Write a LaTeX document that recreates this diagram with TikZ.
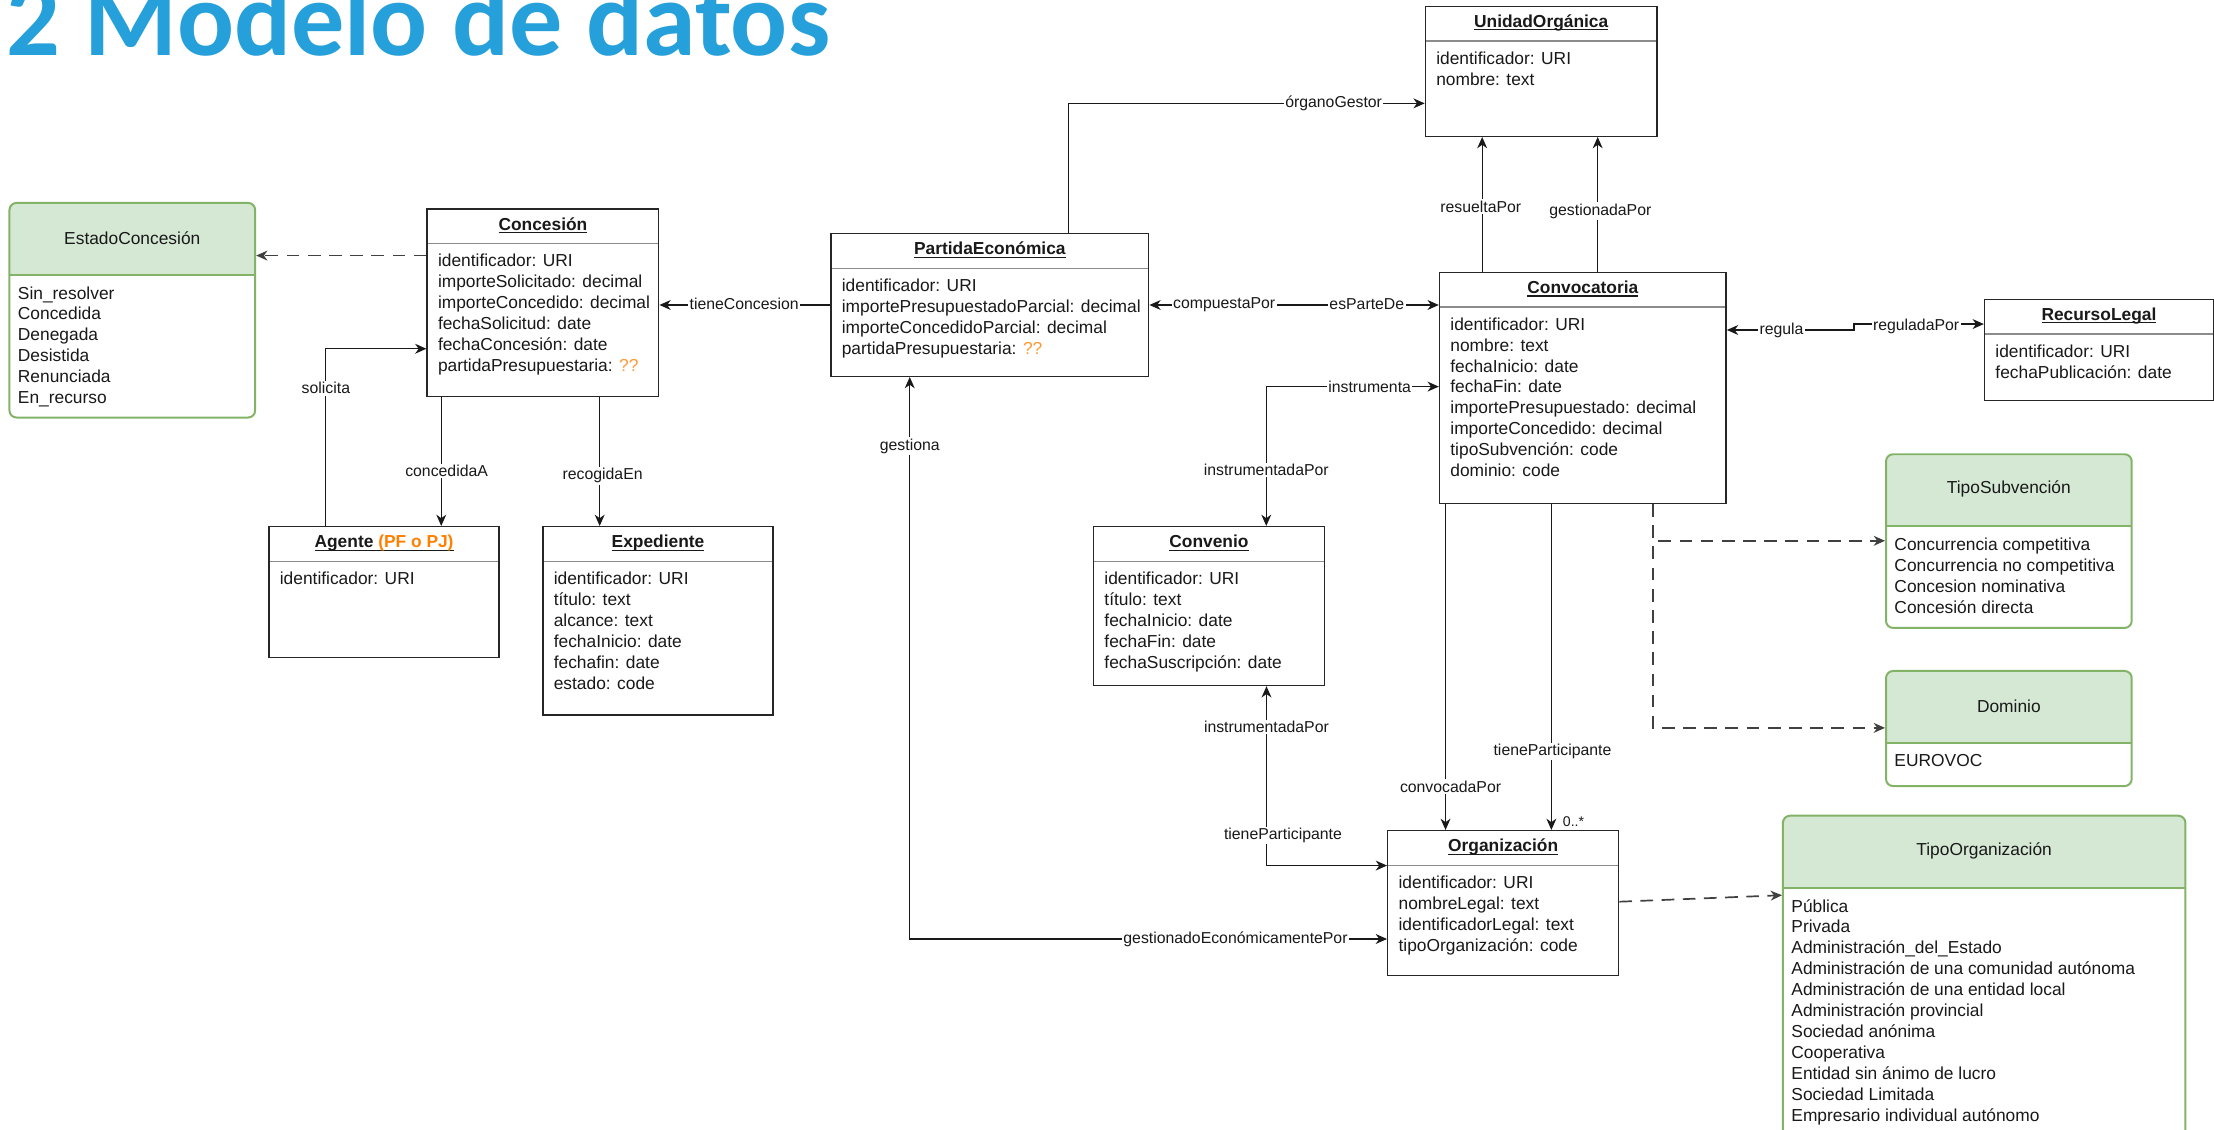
\documentclass[tikz,border=0pt]{standalone}
\usepackage{fontspec}
\setmainfont{Liberation Sans}
\newfontfamily\headfont{Carlito}
\usetikzlibrary{arrows.meta}

\definecolor{hdrgreen}{HTML}{D5E8D4}
\definecolor{linegreen}{HTML}{82B366}
\definecolor{qorange}{HTML}{FF9933}
\definecolor{agorange}{HTML}{FF8000}
\definecolor{titleblue}{HTML}{26A0DA}

\newcommand{\attrfont}{\fontsize{12.3pt}{14.8pt}\selectfont}
\newcommand{\lblfont}{\fontsize{11.2pt}{13pt}\selectfont}
\newcommand{\qq}{\textcolor{qorange}{??}}
\newsavebox{\ttlbox}
\newcommand{\ttlul}[1]{\sbox{\ttlbox}{#1}\rlap{\rule[-2.2pt]{\wd\ttlbox}{0.75pt}}\usebox{\ttlbox}}

\begin{document}
\begin{tikzpicture}[x=1pt, y=-1pt,
    >={Stealth[length=8pt,width=7pt,inset=2.5pt]},
    cls/.style={draw=black!85, line width=1pt, fill=white, anchor=north west, inner sep=0pt,
      path picture={\draw[black!45, line width=0.8pt]
        ([yshift=-24.5pt]path picture bounding box.north west) --
        ([yshift=-24.5pt]path picture bounding box.north east);}},
    enum/.style={draw=linegreen, line width=1.4pt, fill=white, rounded corners=5pt,
      anchor=north west, inner sep=0pt,
      path picture={\fill[hdrgreen, sharp corners]
        (path picture bounding box.north west) rectangle
        ([yshift=-51pt]path picture bounding box.north east);
        \draw[linegreen, line width=1.4pt, sharp corners]
        ([yshift=-51pt]path picture bounding box.north west) --
        ([yshift=-51pt]path picture bounding box.north east);}},
    ttl/.style={anchor=base, inner sep=0pt, font=\attrfont\bfseries, text=black!90},
    ehd/.style={inner sep=0pt, font=\attrfont, text=black!90},
    attr/.style={anchor=north west, inner sep=0pt, align=left, font=\attrfont, text=black!90},
    lbl/.style={fill=white, inner sep=1pt, font=\lblfont, text=black!90},
    link/.style={draw=black!90, line width=0.8pt, ->},
    link2/.style={link, <->},
    dlink/.style={draw=black!75, line width=1.2pt, dash pattern=on 9pt off 6pt, ->}]
  \useasboundingbox (0,0) rectangle (1568,800);

  % Title
  \node[anchor=base west, inner sep=0pt, text=titleblue,
    font=\headfont\bfseries\fontsize{75.2pt}{80pt}\selectfont] (title) at (4.5,39) {2 Modelo de datos};

  % Enumerations
  \node[enum, minimum width=174pt, minimum height=152pt] (est) at (6,143) {};
  \node[ehd] (est-t) at ([yshift=-25.5pt]est.north) {EstadoConcesión};
  \node[attr] (est-a) at ([xshift=6.5pt,yshift=-59.7pt]est.north west)
    {Sin\_resolver\\Concedida\\Denegada\\Desistida\\Renunciada\\En\_recurso};

  \node[enum, minimum width=174pt, minimum height=123pt] (tsub) at (1335,321) {};
  \node[ehd] (tsub-t) at ([yshift=-25.5pt]tsub.north) {TipoSubvención};
  \node[attr] (tsub-a) at ([xshift=6.5pt,yshift=-59.7pt]tsub.north west)
    {Concurrencia competitiva\\Concurrencia no competitiva\\Concesion nominativa\\Concesión directa};

  \node[enum, minimum width=174pt, minimum height=81.5pt] (domi) at (1335,474.5) {};
  \node[ehd] (domi-t) at ([yshift=-25.5pt]domi.north) {Dominio};
  \node[attr] (domi-a) at ([xshift=6.5pt,yshift=-59.7pt]domi.north west) {EUROVOC};

  \node[enum, minimum width=285pt, minimum height=240pt] (torg) at (1262,577) {};
  \node[ehd] (torg-t) at ([yshift=-25.5pt]torg.north) {TipoOrganización};
  \node[attr] (torg-a) at ([xshift=6.5pt,yshift=-59.7pt]torg.north west)
    {Pública\\Privada\\Administración\_del\_Estado\\Administración de una comunidad autónoma\\
     Administración de una entidad local\\Administración provincial\\Sociedad anónima\\
     Cooperativa\\Entidad sin ánimo de lucro\\Sociedad Limitada\\Empresario individual autónomo};

  % Classes
  \node[cls, minimum width=164pt, minimum height=133pt] (conc) at (302,147.5) {};
  \node[ttl] (conc-t) at ([yshift=-15.4pt]conc.north) {\ttlul{Concesión}};
  \node[attr] (conc-a) at ([xshift=8pt,yshift=-32.4pt]conc.north west)
    {identificador: URI\\importeSolicitado: decimal\\importeConcedido: decimal\\
     fechaSolicitud: date\\fechaConcesión: date\\partidaPresupuestaria: \qq};

  \node[cls, minimum width=163pt, minimum height=92.5pt] (agen) at (190,372.5) {};
  \node[ttl] (agen-t) at ([yshift=-15.4pt]agen.north) {\ttlul{Agente \textcolor{agorange}{(PF o PJ)}}};
  \node[attr] (agen-a) at ([xshift=8pt,yshift=-32.4pt]agen.north west) {identificador: URI};

  \node[cls, minimum width=163pt, minimum height=133.5pt] (expe) at (384,372.5) {};
  \node[ttl] (expe-t) at ([yshift=-15.4pt]expe.north) {\ttlul{Expediente}};
  \node[attr] (expe-a) at ([xshift=8pt,yshift=-32.4pt]expe.north west)
    {identificador: URI\\título: text\\alcance: text\\fechaInicio: date\\fechafin: date\\estado: code};

  \node[cls, minimum width=225pt, minimum height=101pt] (part) at (588,165) {};
  \node[ttl] (part-t) at ([yshift=-15.4pt]part.north) {\ttlul{PartidaEconómica}};
  \node[attr] (part-a) at ([xshift=8pt,yshift=-32.4pt]part.north west)
    {identificador: URI\\importePresupuestadoParcial: decimal\\importeConcedidoParcial: decimal\\
     partidaPresupuestaria: \qq};

  \node[cls, minimum width=164pt, minimum height=92pt] (unid) at (1009,4) {};
  \node[ttl] (unid-t) at ([yshift=-15.4pt]unid.north) {\ttlul{UnidadOrgánica}};
  \node[attr] (unid-a) at ([xshift=8pt,yshift=-32.4pt]unid.north west) {identificador: URI\\nombre: text};

  \node[cls, minimum width=203pt, minimum height=163.6pt] (conv) at (1019,192.4) {};
  \node[ttl] (conv-t) at ([yshift=-15.4pt]conv.north) {\ttlul{Convocatoria}};
  \node[attr] (conv-a) at ([xshift=8pt,yshift=-32.4pt]conv.north west)
    {identificador: URI\\nombre: text\\fechaInicio: date\\fechaFin: date\\
     importePresupuestado: decimal\\importeConcedido: decimal\\tipoSubvención: code\\dominio: code};

  \node[cls, minimum width=162pt, minimum height=71.5pt] (recu) at (1405,211.5) {};
  \node[ttl] (recu-t) at ([yshift=-15.4pt]recu.north) {\ttlul{RecursoLegal}};
  \node[attr] (recu-a) at ([xshift=8pt,yshift=-32.4pt]recu.north west)
    {identificador: URI\\fechaPublicación: date};

  \node[cls, minimum width=163.4pt, minimum height=112.5pt] (cnvn) at (774,372.5) {};
  \node[ttl] (cnvn-t) at ([yshift=-15.4pt]cnvn.north) {\ttlul{Convenio}};
  \node[attr] (cnvn-a) at ([xshift=8pt,yshift=-32.4pt]cnvn.north west)
    {identificador: URI\\título: text\\fechaInicio: date\\fechaFin: date\\fechaSuscripción: date};

  \node[cls, minimum width=163.5pt, minimum height=102.7pt] (orga) at (982.3,587.8) {};
  \node[ttl] (orga-t) at ([yshift=-15.4pt]orga.north) {\ttlul{Organización}};
  \node[attr] (orga-a) at ([xshift=8pt,yshift=-32.4pt]orga.north west)
    {identificador: URI\\nombreLegal: text\\identificadorLegal: text\\tipoOrganización: code};

  % Bends
  \coordinate (k-sol) at (230.8,247);
  \coordinate (k-org) at (756.8,73.2);
  \coordinate (k-reg) at (1313,233.7);
  \coordinate (k-ins) at (896.8,273.8);
  \coordinate (k-par) at (896.95,613);
  \coordinate (k-ges) at (644.3,665);
  \coordinate (k-sub) at (1170.5,383);
  \coordinate (k-dom) at (1170.5,515.5);

  % Links
  \draw[dlink] (conc.west |- 0,181) -- (est.east |- 0,181);
  \draw[link] (part.west) -- (part.west -| conc.east);
  \draw[link] (agen.north -| k-sol) -- (k-sol) -- (conc.west |- k-sol);
  \draw[link] (conc.south -| 312.5,0) -- (agen.north -| 312.5,0);
  \draw[link] (conc.south -| 424.7,0) -- (expe.north -| 424.7,0);
  \draw[link] (part.north -| k-org) -- (k-org) -- (unid.west |- k-org);
  \draw[link2] (part.east) -- (part.east -| conv.west);
  \draw[link] (conv.north -| 1049.7,0) -- (unid.south -| 1049.7,0);
  \draw[link] (conv.north -| 1131.5,0) -- (unid.south -| 1131.5,0);
  \draw[link2] (conv.east |- k-reg) -- (k-reg) -- ++(0,-4.2) -- (recu.west |- 0,229.5);
  \draw[link2] (cnvn.north -| k-ins) -- (k-ins) -- (conv.west |- k-ins);
  \draw[link2] (cnvn.south -| k-par) -- (k-par) -- (orga.west |- k-par);
  \draw[link2] (part.south -| k-ges) -- (k-ges) -- (orga.west |- k-ges);
  \draw[link] (conv.south -| 1023.75,0) -- (orga.north -| 1023.75,0);
  \draw[link] (conv.south -| 1098.7,0) -- (orga.north -| 1098.7,0);
  \draw[dlink] (conv.south -| k-sub) -- (k-sub) -- (tsub.west |- k-sub);
  \draw[dlink] (conv.south -| k-dom) -- (k-dom) -- (domi.west |- k-dom);
  \draw[dlink] (orga.east |- 0,638.6) -- (torg.west |- 0,634);

  % Link labels
  \node[lbl] (l-tc) at (527,215.5) {tieneConcesion};
  \node[lbl] (l-so) at (230.8,275) {solicita};
  \node[lbl] (l-ca) at (316.3,333.6) {concedidaA};
  \node[lbl] (l-re) at (426.8,337) {recogidaEn};
  \node[lbl] (l-og) at (944.5,73.2) {órganoGestor};
  \node[lbl] (l-cp) at (867,215.5) {compuestaPor};
  \node[lbl] (l-ep) at (968,215.5) {esParteDe};
  \node[lbl] (l-rp) at (1048.7,146.4) {resueltaPor};
  \node[lbl] (l-gp) at (1133.4,149.4) {gestionadaPor};
  \node[lbl] (l-rg) at (1261.7,233.7) {regula};
  \node[lbl] (l-rgp) at (1357,231) {reguladaPor};
  \node[lbl] (l-in) at (970,273.8) {instrumenta};
  \node[lbl] (l-ip1) at (896.8,332.7) {instrumentadaPor};
  \node[lbl] (l-ip2) at (896.9,515) {instrumentadaPor};
  \node[lbl] (l-tp1) at (908.6,591.8) {tieneParticipante};
  \node[lbl] (l-ge) at (644.3,316) {gestiona};
  \node[lbl] (l-gep) at (875,665) {gestionadoEconómicamentePor};
  \node[lbl] (l-cv) at (1027.3,557) {convocadaPor};
  \node[lbl] (l-tp2) at (1099.5,532.3) {tieneParticipante};
  \node[inner sep=0pt, font=\fontsize{10pt}{12pt}\selectfont, text=black!90] (l-mul) at (1114.4,582) {0..*};
\end{tikzpicture}
\end{document}
